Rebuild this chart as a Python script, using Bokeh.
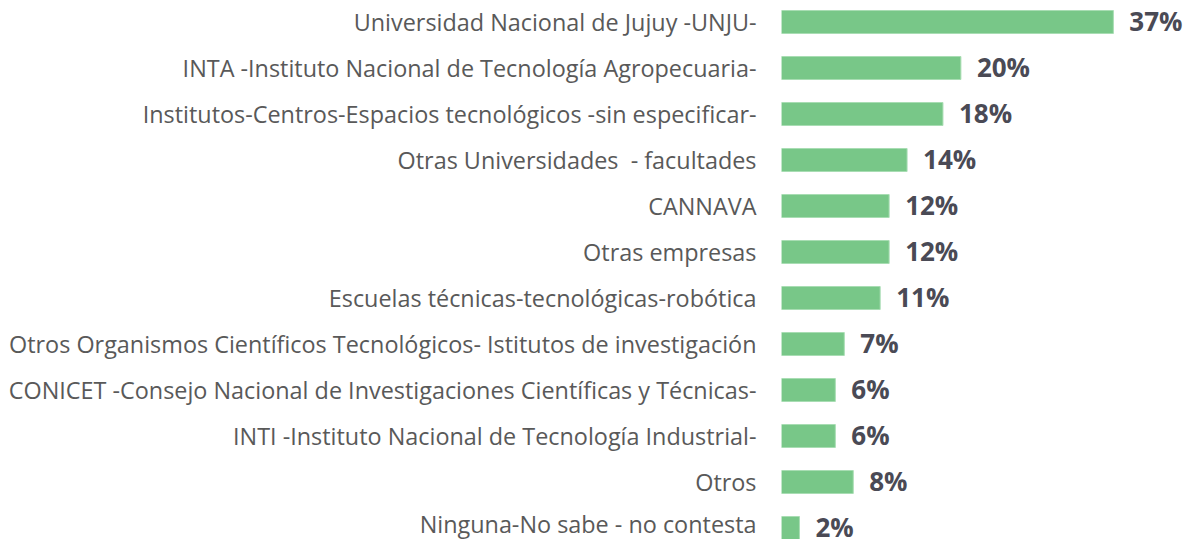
from bokeh.plotting import figure
from bokeh.models import Range1d, FixedTicker, ColumnDataSource
from bokeh.core.properties import value
from bokeh.embed import file_html
from bokeh.resources import INLINE

categories = [
    "Universidad Nacional de Jujuy -UNJU-",
    "INTA -Instituto Nacional de Tecnología Agropecuaria-",
    "Institutos-Centros-Espacios tecnológicos -sin especificar-",
    "Otras Universidades\u00a0 - facultades",
    "CANNAVA",
    "Otras empresas",
    "Escuelas técnicas-tecnológicas-robótica",
    "Otros Organismos Científicos Tecnológicos- Istitutos de investigación",
    "CONICET -Consejo Nacional de Investigaciones Científicas y Técnicas-",
    "INTI -Instituto Nacional de Tecnología Industrial-",
    "Otros",
    "Ninguna-No sabe - no contesta",
]
values = [37, 20, 18, 14, 12, 12, 11, 7, 6, 6, 8, 2]
labels = [f"{v}%" for v in values]

pos = list(range(len(categories)))
src = ColumnDataSource(dict(y=pos, v=values, lab=labels))

p = figure(width=1190, height=539, output_backend="svg", toolbar_location=None,
           x_range=Range1d(0, 45.6), y_range=Range1d(11.25, -0.4674),
           min_border_left=781, min_border_right=0, min_border_top=0, min_border_bottom=0)

p.hbar(y="y", right="v", left=0, height=0.5, source=src,
       fill_color="#78C788", line_color="#A8DDB3", line_width=1)

p.text(x="v", y="y", text="lab", source=src, x_offset=16, y_offset=-1,
       text_font=value("Open Sans"), text_font_style="bold", text_font_size="26px",
       text_color="#4a4a55", text_baseline="middle", text_align="left")

p.xaxis.visible = False
p.xgrid.visible = False
p.ygrid.visible = False
p.outline_line_color = None

ax = p.yaxis[0]
ax.ticker = FixedTicker(ticks=pos)
ax.major_label_overrides = {i: c for i, c in zip(pos, categories)}
ax.axis_line_color = None
ax.major_tick_line_color = None
ax.minor_tick_line_color = None
ax.major_tick_out = 0
ax.major_tick_in = 0
ax.major_label_standoff = 25
ax.major_label_text_font = "Open Sans"
ax.major_label_text_font_size = "23.4px"
ax.major_label_text_color = "#595959"

open("out.html", "w").write(file_html(p, INLINE))
